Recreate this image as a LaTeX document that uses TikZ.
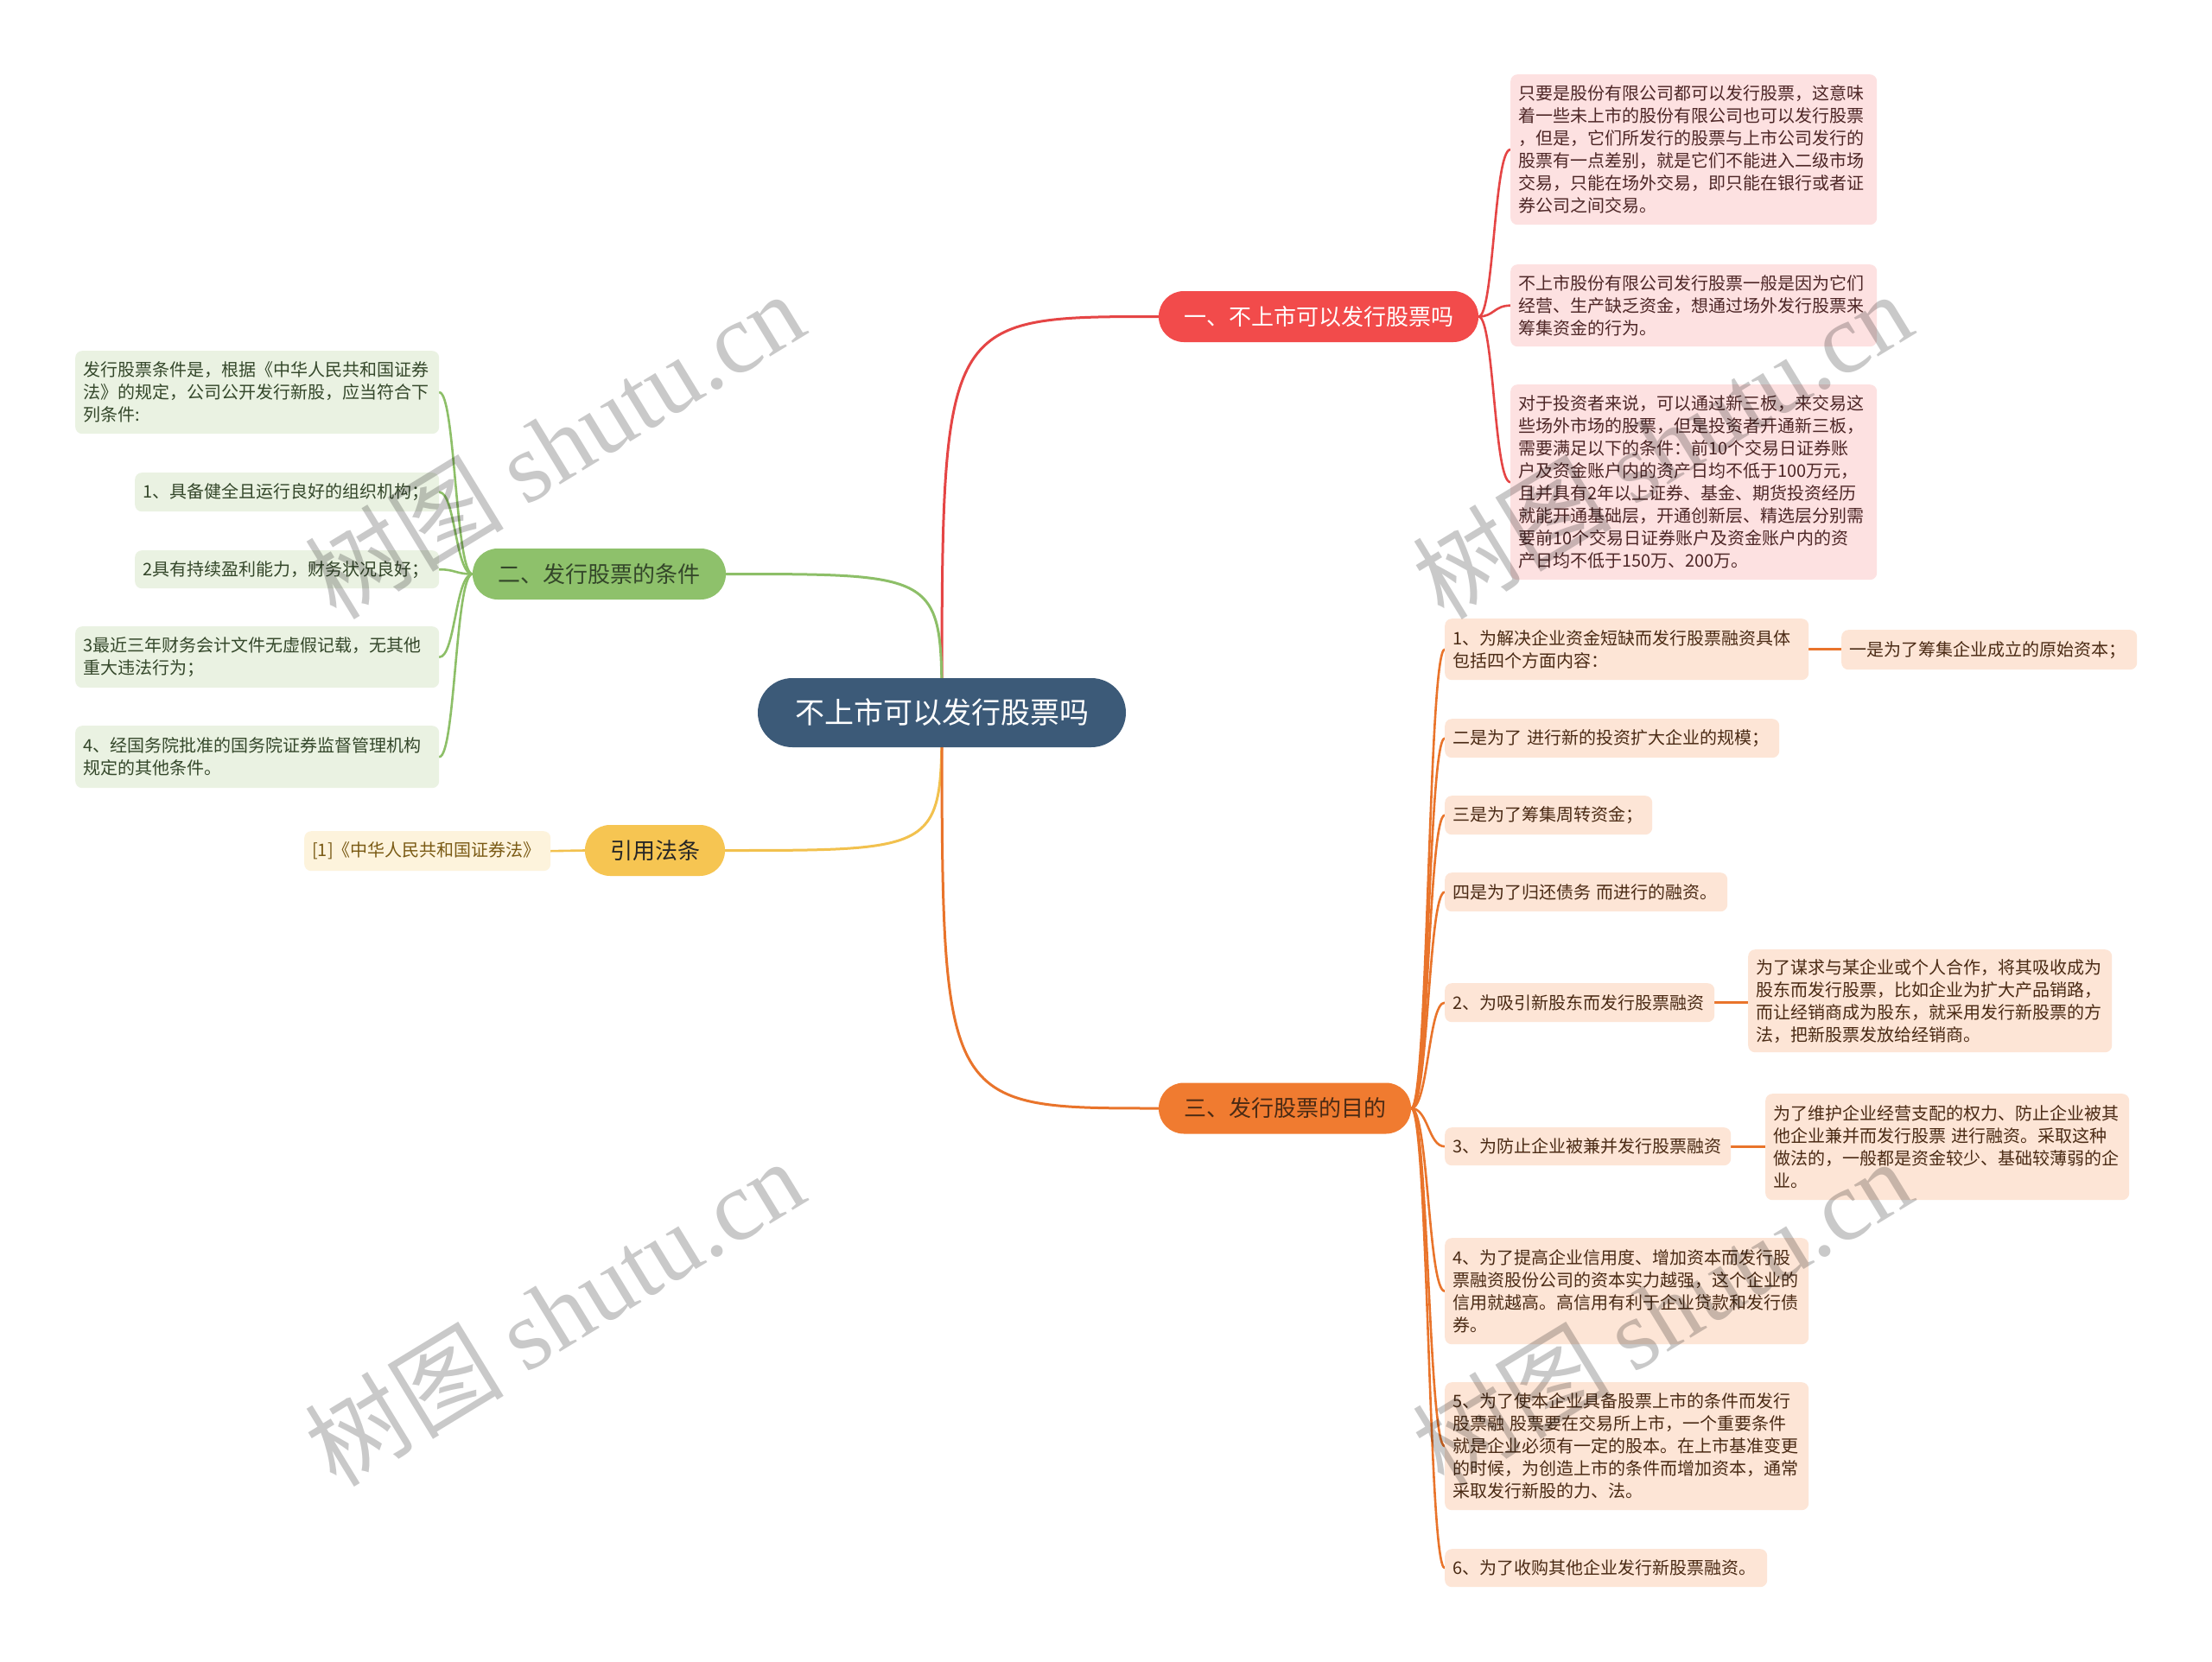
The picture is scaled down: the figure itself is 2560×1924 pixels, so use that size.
\documentclass[tikz,border=0pt]{standalone}
\usepackage{fontspec}
\setmainfont{Noto Sans CJK SC}
\newfontfamily\wmfont{Liberation Serif}
\usetikzlibrary{backgrounds}
\definecolor{cmain}{HTML}{3C5A78}
\definecolor{bred}{HTML}{F24B4B}
\definecolor{bgreen}{HTML}{8EC16B}
\definecolor{borange}{HTML}{F07B30}
\definecolor{byellow}{HTML}{F6C552}
\definecolor{rfill}{HTML}{FDE1E1}
\definecolor{gfill}{HTML}{EAF2E2}
\definecolor{ofill}{HTML}{FDE5D6}
\definecolor{yfill}{HTML}{FDF3DC}
\definecolor{rtext}{HTML}{4D2626}
\definecolor{gtext}{HTML}{34472A}
\definecolor{otext}{HTML}{4A2A14}
\definecolor{ytext}{HTML}{7A5A14}
\definecolor{lred}{HTML}{E54545}
\definecolor{lgreen}{HTML}{8DBF68}
\definecolor{lorange}{HTML}{E9742B}
\definecolor{lyellow}{HTML}{F2C14E}
\begin{document}
\begin{tikzpicture}[x=1pt,y=-1pt,
  leaf/.style={rounded corners=8pt, inner xsep=9pt, inner ysep=4pt,
    font=\fontsize{20}{26}\selectfont, align=left, anchor=north west},
  rleaf/.style={leaf, fill=rfill, text=rtext},
  gleaf/.style={leaf, fill=gfill, text=gtext},
  oleaf/.style={leaf, fill=ofill, text=otext},
  yleaf/.style={leaf, fill=yfill, text=ytext},
  branch/.style={rounded corners=29pt, minimum height=59pt, inner sep=0pt,
    font=\fontsize{26}{30}\selectfont},
  mainline/.style={line width=3pt, line cap=round},
  leafline/.style={line width=2.6pt, line cap=round},
  wm/.style={text=black, text opacity=0.21, font=\fontsize{115}{125}\selectfont,
    rotate=31.4, anchor=base, inner sep=0pt}
]
\useasboundingbox (0,0) rectangle (2560,1924);

% central topic
\node[fill=cmain, text=white, rounded corners=40pt, minimum width=426pt,
  minimum height=80pt, inner sep=0pt, font=\fontsize{34}{40}\selectfont]
  (c) at (1090,825) {不上市可以发行股票吗};

% branches
\node[branch, fill=bred, text=white, minimum width=370pt] (b1) at (1526,366.5) {一、不上市可以发行股票吗};
\node[branch, fill=bgreen, text=gtext, minimum width=293pt] (b2) at (693.5,664.5) {二、发行股票的条件};
\node[branch, fill=borange, text=otext, minimum width=292pt] (b3) at (1487,1283) {三、发行股票的目的};
\node[branch, fill=byellow, text=black!85, minimum width=162pt] (b4) at (758,984.5) {引用法条};

% red leaves
\node[rleaf, text width=406pt, minimum height=174pt] (r1) at (1748,86)
 {只要是股份有限公司都可以发行股票，这意味\\着一些未上市的股份有限公司也可以发行股票\\，但是，它们所发行的股票与上市公司发行的\\股票有一点差别，就是它们不能进入二级市场\\交易，只能在场外交易，即只能在银行或者证\\券公司之间交易。};
\node[rleaf, text width=406pt, minimum height=95pt] (r2) at (1748,306)
 {不上市股份有限公司发行股票一般是因为它们\\经营、生产缺乏资金，想通过场外发行股票来\\筹集资金的行为。};
\node[rleaf, text width=406pt, minimum height=226pt] (r3) at (1748,445)
 {对于投资者来说，可以通过新三板，来交易这\\些场外市场的股票，但是投资者开通新三板，\\需要满足以下的条件：前10个交易日证券账\\户及资金账户内的资产日均不低于100万元，\\且并具有2年以上证券、基金、期货投资经历\\就能开通基础层，开通创新层、精选层分别需\\要前10个交易日证券账户及资金账户内的资\\产日均不低于150万、200万。};

% green leaves
\node[gleaf, text width=403pt, minimum height=96pt] (g1) at (87,406)
 {发行股票条件是，根据《中华人民共和国证券\\法》的规定，公司公开发行新股，应当符合下\\列条件:};
\node[gleaf, text width=334pt, minimum height=45pt] (g2) at (156,547)
 {1、具备健全且运行良好的组织机构；};
\node[gleaf, text width=334pt, minimum height=44pt] (g3) at (156,637)
 {2具有持续盈利能力，财务状况良好；};
\node[gleaf, text width=403pt, minimum height=71pt] (g4) at (87,725)
 {3最近三年财务会计文件无虚假记载，无其他\\重大违法行为；};
\node[gleaf, text width=403pt, minimum height=72pt] (g5) at (87,840)
 {4、经国务院批准的国务院证券监督管理机构\\规定的其他条件。};

% yellow leaf
\node[yleaf, text width=267pt, minimum height=46pt] (y1) at (352,962)
 {[1]《中华人民共和国证券法》};

% orange leaves
\node[oleaf, text width=403pt, minimum height=71pt] (o1) at (1672,716)
 {1、为解决企业资金短缺而发行股票融资具体\\包括四个方面内容：};
\node[oleaf, text width=324pt, minimum height=46pt] (o1a) at (2131,729)
 {一是为了筹集企业成立的原始资本；};
\node[oleaf, text width=369pt, minimum height=45pt] (o2) at (1672,832)
 {二是为了 进行新的投资扩大企业的规模；};
\node[oleaf, text width=222pt, minimum height=45pt] (o3) at (1672,921)
 {三是为了筹集周转资金；};
\node[oleaf, text width=309pt, minimum height=45pt] (o4) at (1672,1010)
 {四是为了归还债务 而进行的融资。};
\node[oleaf, text width=294pt, minimum height=45pt] (o5) at (1672,1138)
 {2、为吸引新股东而发行股票融资};
\node[oleaf, text width=403pt, minimum height=119pt] (o5a) at (2023,1099)
 {为了谋求与某企业或个人合作，将其吸收成为\\股东而发行股票，比如企业为扩大产品销路，\\而让经销商成为股东，就采用发行新股票的方\\法，把新股票发放给经销商。};
\node[oleaf, text width=313pt, minimum height=44pt] (o6) at (1672,1305)
 {3、为防止企业被兼并发行股票融资};
\node[oleaf, text width=403pt, minimum height=123pt] (o6a) at (2043,1266)
 {为了维护企业经营支配的权力、防止企业被其\\他企业兼并而发行股票 进行融资。采取这种\\做法的，一般都是资金较少、基础较薄弱的企\\业。};
\node[oleaf, text width=403pt, minimum height=123pt] (o7) at (1672,1433)
 {4、为了提高企业信用度、增加资本而发行股\\票融资股份公司的资本实力越强，这个企业的\\信用就越高。高信用有利于企业贷款和发行债\\券。};
\node[oleaf, text width=403pt, minimum height=148pt] (o8) at (1672,1600)
 {5、为了使本企业具备股票上市的条件而发行\\股票融 股票要在交易所上市，一个重要条件\\就是企业必须有一定的股本。在上市基准变更\\的时候，为创造上市的条件而增加资本，通常\\采取发行新股的力、法。};
\node[oleaf, text width=355pt, minimum height=44pt] (o9) at (1672,1793)
 {6、为了收购其他企业发行新股票融资。};

\coordinate (rx) at (1729,0);
\coordinate (gx) at (527,0);
\coordinate (ox) at (1653,0);

\begin{pgfonlayer}{background}
  \fill[white] (0,0) rectangle (2560,1924);
  \draw[mainline, lred] (c.center) .. controls (c.center |- b1.west) .. (b1.west);
  \draw[mainline, lgreen] (c.center) .. controls (c.center |- b2.east) .. (b2.east);
  \draw[mainline, lyellow] (c.center) .. controls (c.center |- b4.east) .. (b4.east);
  \draw[mainline, lorange] (c.center) .. controls (c.center |- b3.west) .. (b3.west);
  \foreach \n in {r1,r2,r3}
    \draw[leafline, lred] (b1.east) .. controls (b1.east -| rx) and (\n.west -| rx) .. (\n.west);
  \foreach \n in {g1,g2,g3,g4,g5}
    \draw[leafline, lgreen] (b2.west) .. controls (b2.west -| gx) and (\n.east -| gx) .. (\n.east);
  \foreach \n in {o1,o2,o3,o4,o5,o6,o7,o8,o9}
    \draw[leafline, lorange] (b3.east) .. controls (b3.east -| ox) and (\n.west -| ox) .. (\n.west);
  \draw[leafline, lorange] (o1.east) -- (o1.east -| o1a.west);
  \draw[leafline, lorange] (o5.east) -- (o5.east -| o5a.west);
  \draw[leafline, lorange] (o6.east) -- (o6.east -| o6a.west);
  \draw[leafline, lyellow] (b4.west) -- (y1.east);
\end{pgfonlayer}

% watermarks
\node[wm] (w1) at (664,552) {树图 {\wmfont shutu.cn}};
\node[wm] (w2) at (1946,552) {树图 {\wmfont shutu.cn}};
\node[wm] (w3) at (664,1556) {树图 {\wmfont shutu.cn}};
\node[wm] (w4) at (1946,1556) {树图 {\wmfont shutu.cn}};
\end{tikzpicture}
\end{document}
